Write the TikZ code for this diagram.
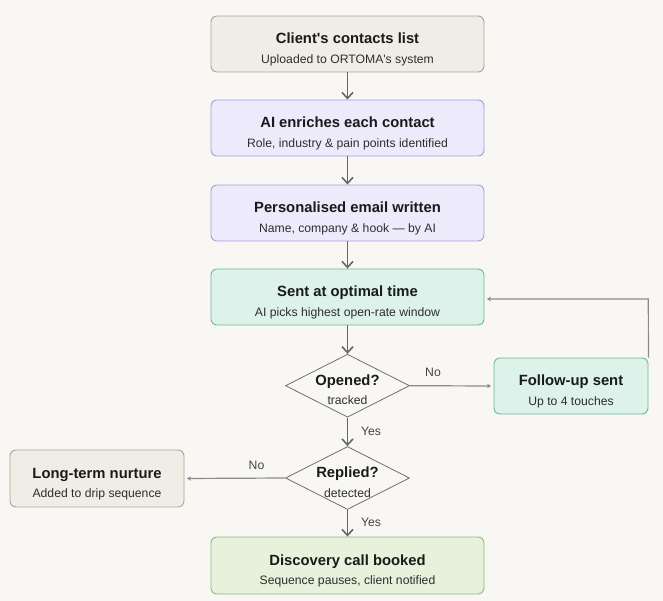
\documentclass[tikz,border=0pt]{standalone}
\usepackage{fontspec}
\newfontfamily\flowfont{Liberation Sans}
\usetikzlibrary{arrows.meta,shapes.geometric,calc}
\definecolor{bg}{HTML}{F8F7F4}
\definecolor{grayfill}{HTML}{F0EDE6}
\definecolor{graydraw}{HTML}{A9A59C}
\definecolor{purfill}{HTML}{ECEAFB}
\definecolor{purdraw}{HTML}{A79DE0}
\definecolor{tealfill}{HTML}{DCF2EA}
\definecolor{tealdraw}{HTML}{6FB89C}
\definecolor{grnfill}{HTML}{E6F2DC}
\definecolor{grndraw}{HTML}{8BBC78}
\definecolor{arrowc}{HTML}{666666}
\definecolor{thinc}{HTML}{8A8A8A}
\definecolor{diadraw}{HTML}{707070}
\definecolor{ttlc}{HTML}{1A1A1A}
\definecolor{subc}{HTML}{2E2E2E}
\definecolor{lblc}{HTML}{444444}
\tikzset{
  boxbase/.style={rectangle, rounded corners=6pt, line width=0.9pt, inner sep=0pt},
  graybox/.style={boxbase, fill=grayfill, draw=graydraw},
  purbox/.style={boxbase, fill=purfill, draw=purdraw},
  tealbox/.style={boxbase, fill=tealfill, draw=tealdraw},
  grnbox/.style={boxbase, fill=grnfill, draw=grndraw},
  wide/.style={minimum width=273pt, minimum height=56pt},
  dia/.style={diamond, draw=diadraw, fill=bg, line width=0.8pt, inner sep=0pt, minimum width=124pt, minimum height=63pt},
  ttl/.style={font=\flowfont\fontsize{14.8pt}{17pt}\selectfont\bfseries, text=ttlc, inner sep=0pt, anchor=base},
  subt/.style={font=\flowfont\fontsize{12.2pt}{14pt}\selectfont, text=subc, inner sep=0pt, anchor=base},
  lbl/.style={font=\flowfont\fontsize{12.2pt}{14pt}\selectfont, text=lblc, inner sep=0pt},
  mainarrow/.style={draw=arrowc, line width=1.9pt, -{Straight Barb[length=6pt,width=11pt,line width=1.6pt]}},
  thinarrow/.style={draw=thinc, line width=1.2pt, -{Stealth[length=4pt,width=4.5pt]}, shorten >=2.5pt},
}
\newcommand\flowitem[6]{%
  \node[#2] (#1) at (#3,#4) {};
  \node[ttl] (#1t) at ([yshift=0.3pt]#1.center) {#5};
  \node[subt] (#1s) at ([yshift=-19.2pt]#1.center) {#6};
}
\begin{document}
\begin{tikzpicture}[x=1pt,y=-1pt]
\fill[bg] (0,0) rectangle (663,601);
\useasboundingbox (0,0) rectangle (663,601);

\flowitem{b1}{graybox,wide}{347.5}{44}{Client's contacts list}{Uploaded to ORTOMA's system}
\flowitem{b2}{purbox,wide}{347.5}{128}{AI enriches each contact}{Role, industry \& pain points identified}
\flowitem{b3}{purbox,wide}{347.5}{213}{Personalised email written}{Name, company \& hook — by AI}
\flowitem{b4}{tealbox,wide}{347.5}{297}{Sent at optimal time}{AI picks highest open-rate window}
\flowitem{d1}{dia}{347.5}{385.7}{Opened?}{tracked}
\flowitem{fu}{tealbox,minimum width=154pt,minimum height=56pt}{571}{386}{Follow-up sent}{Up to 4 touches}
\flowitem{d2}{dia}{347.5}{478}{Replied?}{detected}
\flowitem{nt}{graybox,minimum width=174pt,minimum height=57pt}{97}{478.5}{Long-term nurture}{Added to drip sequence}
\flowitem{dc}{grnbox,wide,minimum height=57pt}{347.5}{565.5}{Discovery call booked}{Sequence pauses, client notified}

\draw[mainarrow] (b1.south) -- (b2.north);
\draw[mainarrow] (b2.south) -- (b3.north);
\draw[mainarrow] (b3.south) -- (b4.north);
\draw[mainarrow] (b4.south) -- (d1.north);
\draw[mainarrow] (d1.south) -- (d2.north);
\draw[mainarrow] (d2.south) -- (dc.north);

\draw[thinarrow] (d1.east) -- (fu.west);
\draw[thinarrow] (d2.west) -- (nt.east);
\coordinate (lp) at (648.3,299);
\draw[thinarrow] (fu.north east) -- (lp) -- (b4.east |- lp);

\node[lbl] (ly1) at (371,431) {Yes};
\node[lbl] (ly2) at (371,522.5) {Yes};
\node[lbl] (ln1) at (433,372.5) {No};
\node[lbl] (ln2) at (256.5,465.5) {No};
\end{tikzpicture}
\end{document}
